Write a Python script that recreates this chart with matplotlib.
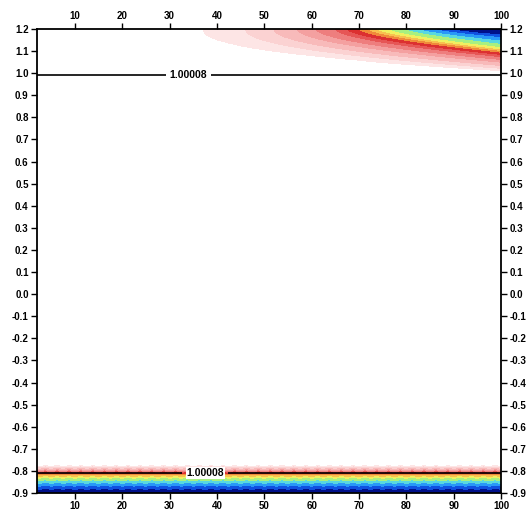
import numpy as np
import matplotlib
matplotlib.use("Agg")
import matplotlib.pyplot as plt
from matplotlib.colors import ListedColormap, BoundaryNorm

plt.rcParams['font.family'] = ['Liberation Sans', 'DejaVu Sans']
plt.rcParams['axes.unicode_minus'] = False

# shading colours, lowest band first
band_colors = ['#fde5e5', '#fbd2d2', '#f8baba', '#f4a0a0', '#ee7e7e', '#e65656',
               '#dc3030', '#f08a3a', '#f8c050', '#f0f060', '#a8f080', '#58d8e0',
               '#2898f8', '#1050e0', '#00108a']

# upper bands: where each band edge meets the top (x) and the right side (y)
top_cross_x = [37, 46, 52, 57, 61, 65, 67.5, 70, 72, 74, 76.5, 80, 83, 86.5, 89.5]
right_edge_y = [1.01, 1.022, 1.035, 1.05, 1.062, 1.075, 1.085, 1.095, 1.103,
                1.11, 1.12, 1.135, 1.15, 1.165, 1.18]
edge_power = [0.44, 0.47, 0.50, 0.53, 0.56, 0.59, 0.62, 0.65, 0.68,
              0.70, 0.72, 0.75, 0.78, 0.81, 0.84]

# lower bands: band edge heights, lowest band first
bottom_edge_y = [-0.775, -0.782, -0.789, -0.795, -0.800, -0.804, -0.807, -0.814,
                 -0.820, -0.826, -0.834, -0.845, -0.857, -0.870, -0.886]
ripple_period = 2.5
ripple_size = 0.003

# contoured level and where it crosses
line_level = 1.00008
line_y = [0.99, -0.81]
label_x = [34.0, 37.5]

x_ticks = np.arange(10, 101, 10)
y_ticks = np.round(np.arange(-0.9, 1.21, 0.1), 1) + 0.0

x = np.linspace(2, 100, 500)
y = np.linspace(-0.9, 1.2, 900)
X, Y = np.meshgrid(x, y)
nb = len(band_colors)
band_idx = np.arange(nb, dtype=float)

# upper field: interpolate band index between edge curves, column by column
shade_top = np.full(X.shape, -1.0)
for j, xv in enumerate(x):
    edges = []
    for xc, yr, p in zip(top_cross_x, right_edge_y, edge_power):
        d = (xv - xc) / (100 - xc)
        edges.append(1.2 - (1.2 - yr) * np.sign(d) * abs(d) ** p)
    edges = np.maximum.accumulate(np.array(edges))
    shade_top[:, j] = np.interp(y, edges, band_idx, left=-1.0, right=nb)

# lower field: flat bands with a small ripple along x
y_eff = Y + ripple_size * np.abs(np.cos(np.pi * X / ripple_period))
shade_bot = np.interp(-y_eff, -np.array(bottom_edge_y), band_idx, left=-1.0, right=nb)
shade = np.where(Y > 0.2, shade_top, shade_bot)

line_field = line_level + 1e-4 * (Y - line_y[0]) * (Y - line_y[1])

fig = plt.figure(figsize=(5.31, 5.12), dpi=100)
ax = fig.add_axes([0.0697, 0.0371, 0.8738, 0.9063])

levels = np.arange(0, nb + 1)
cmap = ListedColormap(band_colors)
cmap.set_over(band_colors[-1])
norm = BoundaryNorm(levels, cmap.N)
ax.contourf(X, Y, shade, levels=levels, cmap=cmap, norm=norm, extend='max')

cs = ax.contour(X, Y, line_field, levels=[line_level], colors='black', linewidths=1.2)
labels = ax.clabel(cs, fmt='%.5f', fontsize=7.5, inline=True, inline_spacing=4,
                   manual=[(label_x[0], line_y[0]), (label_x[1], line_y[1])])
for t in labels:
    t.set_fontweight('bold')
    t.set_bbox(dict(facecolor='white', edgecolor='none', pad=0.5))

ax.set_xlim(2, 100)
ax.set_ylim(-0.9, 1.2)
ax.set_xticks(x_ticks)
ax.set_yticks(y_ticks)
ax.set_yticklabels(['%.1f' % v for v in y_ticks])
ax.tick_params(direction='out', length=4, width=1, labelsize=7,
               top=True, right=True, labeltop=True, labelright=True, pad=2)
for tick in ax.xaxis.get_major_ticks() + ax.yaxis.get_major_ticks():
    tick.label1.set_fontweight('bold')
    tick.label2.set_fontweight('bold')
for sp in ax.spines.values():
    sp.set_linewidth(1.3)

fig.savefig('out.png', dpi=100)
